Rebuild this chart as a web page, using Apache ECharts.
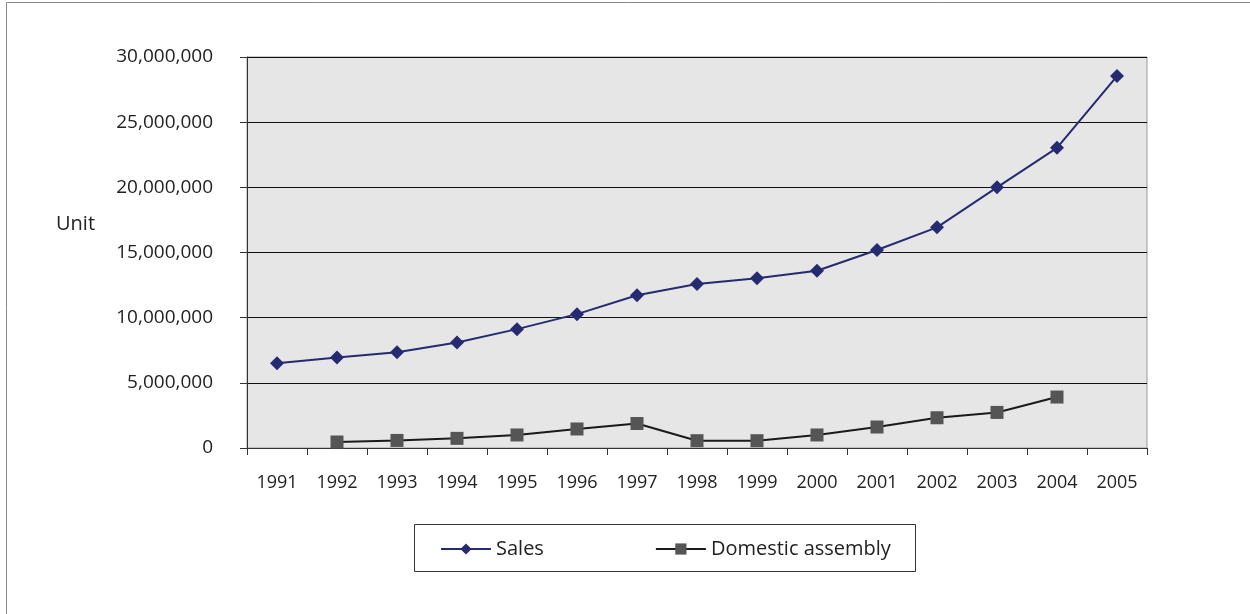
<!DOCTYPE html>
<html><head><meta charset="utf-8">
<script src="https://cdn.jsdelivr.net/npm/echarts@6/dist/echarts.min.js"></script>
<style>html,body{margin:0;padding:0;background:#fff}#c{width:1250px;height:614px}</style>
</head><body><div id="c"></div>
<script>
const years = ['1991','1992','1993','1994','1995','1996','1997','1998','1999','2000','2001','2002','2003','2004','2005'];
const sales = [6510000,6940000,7350000,8090000,9120000,10270000,11720000,12590000,13020000,13600000,15190000,16930000,20000000,23030000,28540000];
const domestic = [null,460000,580000,740000,1000000,1460000,1880000,560000,560000,1000000,1610000,2320000,2730000,3910000,null];
const FONT = '"Open Sans"';
const chart = echarts.init(document.getElementById('c'));
chart.setOption({
  backgroundColor:'#fff',
  animation:false,
  textStyle:{fontFamily:FONT},
  graphic:[
    {type:'rect',shape:{x:6.5,y:2.5,width:1260,height:640},style:{fill:'none',stroke:'#8a8a8a',lineWidth:1},z:-10},
    {type:'rect',shape:{x:414.5,y:524.5,width:501,height:47},style:{fill:'#fff',stroke:'#333',lineWidth:1},z:-1},
    {type:'text',left:56,top:214,style:{text:'Unit',font:'20px '+FONT,fill:'#222'}}
  ],
  grid:{left:247,right:103,top:57,bottom:166,show:true,backgroundColor:'#e6e6e6',borderColor:'#9a9a9a',borderWidth:1},
  legend:{left:440,top:539,padding:0,itemWidth:50,itemHeight:14,itemGap:111,
    textStyle:{fontFamily:FONT,fontSize:20,color:'#222'},
    data:['Sales','Domestic assembly']},
  xAxis:{type:'category',data:years,boundaryGap:true,
    axisLine:{lineStyle:{color:'#333',width:1}},
    axisTick:{show:true,length:7,lineStyle:{color:'#333'}},
    axisLabel:{margin:26,fontSize:18,color:'#222',fontFamily:FONT},
    splitLine:{show:false}},
  yAxis:{type:'value',min:0,max:30000000,interval:5000000,
    axisLine:{show:true,lineStyle:{color:'#333',width:1}},
    axisTick:{show:true,length:7,lineStyle:{color:'#333'}},
    axisLabel:{margin:34,fontSize:19,color:'#222',fontFamily:FONT,
      formatter:v=>v.toLocaleString('en-US')},
    splitLine:{show:true,lineStyle:{color:'#111',width:1}}},
  series:[
    {name:'Sales',type:'line',data:sales,symbol:'diamond',symbolSize:14,
      lineStyle:{color:'#262a70',width:2},itemStyle:{color:'#262a70'}},
    {name:'Domestic assembly',type:'line',data:domestic,symbol:'rect',symbolSize:13,
      lineStyle:{color:'#1a1a1a',width:2},itemStyle:{color:'#555555'}}
  ]
});
</script></body></html>
